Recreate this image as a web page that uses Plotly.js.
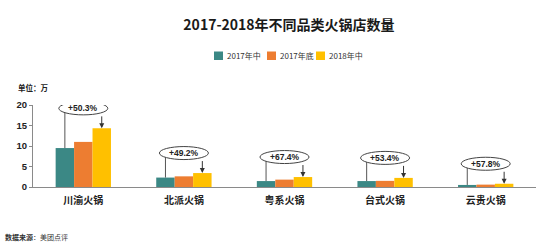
<!DOCTYPE html>
<html>
<head>
<meta charset="utf-8">
<script src="https://cdn.plot.ly/plotly-3.0.1.min.js"></script>
<style>html,body{margin:0;padding:0;background:#fff;}#chart{width:553px;height:246px;}</style>
</head>
<body>
<div id="chart"></div>
<script>
var categories = ['川渝火锅','北派火锅','粤系火锅','台式火锅','云贵火锅'];
var seriesNames = ['2017年中','2017年底','2018年中'];
var mid2017 = [9.5, 2.3, 1.45, 1.45, 0.5];
var end2017 = [11.0, 2.6, 1.8, 1.5, 0.58];
var mid2018 = [14.3, 3.4, 2.43, 2.22, 0.79];
var growth = ['+50.3%','+49.2%','+67.4%','+53.4%','+57.8%'];
var yTicks = [0, 5, 10, 15, 20];

var colors = ['#3B8885', '#ED7D31', '#FFC000'];
var W = 553, H = 246;
var M = {l: 33, r: 17, t: 105, b: 59};
var plotW = W - M.l - M.r, plotH = H - M.t - M.b;
var yMax = 20;
var pxPerUnit = plotH / yMax;
var bargap = 0.45;
var bw = (1 - bargap) / 3;
var FONT = 'Liberation Sans, Arial, Noto Sans CJK SC, sans-serif';
var CJK = 'Noto Sans CJK SC, Liberation Sans, sans-serif';

var xIdx = categories.map(function(_, i){ return i; });
var allSeries = [mid2017, end2017, mid2018];
var traces = allSeries.map(function(vals, k){
  return {type: 'bar', x: xIdx, y: vals, name: seriesNames[k],
    marker: {color: colors[k], line: {width: 0}}, showlegend: false,
    hoverinfo: 'none'};
});

var shapes = [], annotations = [];
var ellipseOff = 20; // px above top of last bar
categories.forEach(function(c, i){
  var topY = mid2018[i] + ellipseOff / pxPerUnit;
  shapes.push({type: 'line', xref: 'x', yref: 'y', x0: i - bw, x1: i - bw,
    y0: mid2017[i], y1: topY, line: {color: '#555', width: 1}});
  shapes.push({type: 'circle', xref: 'x', yref: 'y', xsizemode: 'pixel', ysizemode: 'pixel',
    xanchor: i, yanchor: mid2018[i], x0: -24.5, x1: 24.5, y0: ellipseOff - 6.5, y1: ellipseOff + 6.5,
    fillcolor: '#fff', line: {color: '#444', width: 1}});
  annotations.push({xref: 'x', yref: 'y', x: i, y: mid2018[i], yshift: ellipseOff,
    text: '<b>' + growth[i] + '</b>', showarrow: false,
    font: {family: FONT, size: 8.5, color: '#222'}});
  annotations.push({xref: 'x', yref: 'y', x: i + bw, y: mid2018[i], ax: 0, ay: -(ellipseOff - 6.5),
    text: '', showarrow: true, arrowhead: 2, arrowsize: 1, arrowwidth: 1, arrowcolor: '#333', standoff: 0});
});

// custom legend
function px2x(p){ return (p - M.l) / plotW; }
function py2y(p){ return (H - M.b - p) / plotH; }
var legX = [214, 267, 316];
seriesNames.forEach(function(n, k){
  shapes.push({type: 'rect', xref: 'paper', yref: 'paper', x0: px2x(legX[k]), x1: px2x(legX[k] + 9),
    y0: py2y(60), y1: py2y(51.5), fillcolor: colors[k], line: {width: 0}});
  annotations.push({xref: 'paper', yref: 'paper', x: px2x(legX[k] + 11), y: py2y(55.7),
    xanchor: 'left', yanchor: 'middle', text: n, showarrow: false,
    font: {family: CJK, size: 8, color: '#333'}});
});

annotations.push({xref: 'paper', yref: 'paper', x: px2x(16), y: py2y(87), xanchor: 'left', yanchor: 'middle',
  text: '<b>单位：万</b>', showarrow: false, font: {family: CJK, size: 7.5, color: '#222'}});
annotations.push({xref: 'paper', yref: 'paper', x: px2x(3), y: py2y(236.5), xanchor: 'left', yanchor: 'middle',
  text: '<b>数据来源</b>：美团点评', showarrow: false, font: {family: CJK, size: 7, color: '#333'}});

var layout = {
  width: W, height: H,
  margin: M,
  paper_bgcolor: '#fff', plot_bgcolor: '#fff',
  title: {text: '<b>2017-2018年不同品类火锅店数量</b>', x: 289 / W, xanchor: 'center', y: 1 - 25 / H, yanchor: 'middle',
    font: {family: CJK, size: 14, color: '#1a1a1a'}},
  barmode: 'group', bargap: bargap, bargroupgap: 0,
  showlegend: false,
  xaxis: {tickvals: xIdx, ticktext: categories.map(function(c){ return '<b>' + c + '</b>'; }),
    range: [-0.5, categories.length - 0.5], showgrid: false, zeroline: false,
    showline: true, linecolor: '#8a8a8a', linewidth: 1, ticks: '', ticklabelstandoff: 4,
    tickfont: {family: CJK, size: 10, color: '#222'}, fixedrange: true},
  yaxis: {range: [0, yMax], tickvals: yTicks, ticktext: yTicks.map(function(v){ return '<b>' + v + '</b>'; }),
    showgrid: false, zeroline: false, showline: true, linecolor: '#8a8a8a', linewidth: 1,
    ticks: 'outside', ticklen: 3, tickcolor: '#8a8a8a',
    tickfont: {family: FONT, size: 9.5, color: '#222'}, fixedrange: true},
  shapes: shapes,
  annotations: annotations
};

Plotly.newPlot('chart', traces, layout, {displayModeBar: false, staticPlot: true});
</script>
</body>
</html>
